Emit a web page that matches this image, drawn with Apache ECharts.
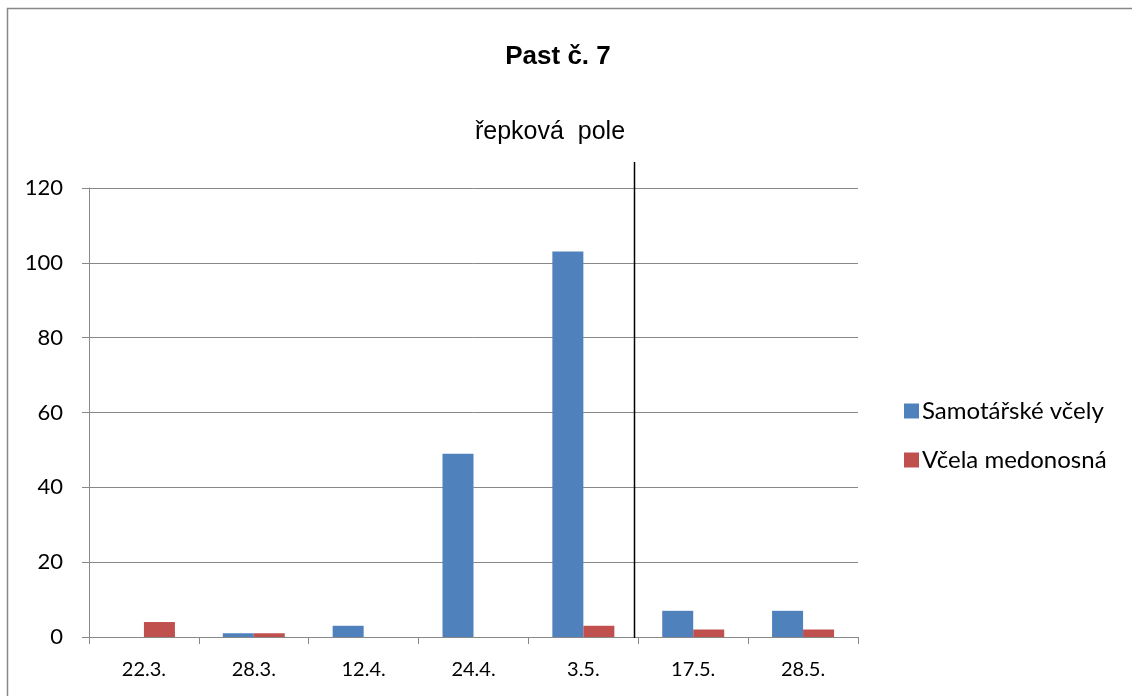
<!DOCTYPE html>
<html>
<head>
<meta charset="utf-8">
<script src="https://cdn.jsdelivr.net/npm/echarts@6/dist/echarts.min.js"></script>
<style>
  html, body { margin: 0; padding: 0; background: #fff; }
  #chart { width: 1132px; height: 696px; }
</style>
</head>
<body>
<div id="chart"></div>
<script>
// Sampling dates and catches per trap visit
const categories = ['22.3.', '28.3.', '12.4.', '24.4.', '3.5.', '17.5.', '28.5.'];
const solitaryBees = [0, 1, 3, 49, 103, 7, 7];
const honeyBee = [4, 1, 0, 0, 3, 2, 2];
const yTicks = [0, 20, 40, 60, 80, 100, 120];

const labelFont = 'Lato, "Open Sans", sans-serif';
const titleFont = '"Liberation Sans", Arial, sans-serif';
const chart = echarts.init(document.getElementById('chart'));

const option = {
  animation: false,
  backgroundColor: '#ffffff',
  title: [
    {
      text: 'Past č. 7',
      left: 553, top: 39, textAlign: 'center',
      textStyle: { fontFamily: titleFont, fontWeight: 'bold', fontSize: 26, color: '#000' }
    },
    {
      text: 'řepková  pole',
      left: 545, top: 115, textAlign: 'center',
      textStyle: { fontFamily: titleFont, fontWeight: 'normal', fontSize: 25, color: '#000' }
    }
  ],
  legend: {
    orient: 'vertical',
    left: 899, top: 394,
    itemWidth: 15, itemHeight: 15, itemGap: 25,
    icon: 'rect',
    textStyle: { fontFamily: labelFont, fontSize: 24, color: '#000', padding: [0, 0, 0, -2] },
    data: ['Samotářské včely', 'Včela medonosná']
  },
  grid: { left: 89, right: 274, top: 188, bottom: 59, containLabel: false },
  xAxis: {
    type: 'category',
    data: categories,
    axisLine: { lineStyle: { color: '#888', width: 1 } },
    axisTick: { show: true, alignWithLabel: false, length: 7, lineStyle: { color: '#888' } },
    axisLabel: { fontFamily: labelFont, fontSize: 20, color: '#000', margin: 23 }
  },
  yAxis: {
    type: 'value',
    min: yTicks[0], max: yTicks[yTicks.length - 1], interval: 20,
    axisLine: { show: true, lineStyle: { color: '#888', width: 1 } },
    axisTick: { show: true, length: 7, lineStyle: { color: '#888' } },
    axisLabel: { fontFamily: labelFont, fontSize: 22, color: '#000', margin: 26 },
    splitLine: { show: true, lineStyle: { color: '#888', width: 1 } }
  },
  series: [
    {
      name: 'Samotářské včely', type: 'bar', data: solitaryBees,
      barWidth: 31, barGap: '0%',
      itemStyle: { color: '#4F81BD' }
    },
    {
      name: 'Včela medonosná', type: 'bar', data: honeyBee,
      barWidth: 31, barGap: '0%',
      itemStyle: { color: '#C0504D' }
    }
  ]
};
chart.setOption(option);

// Outer frame and the divider between the 3.5. and 17.5. samplings
const x4 = chart.convertToPixel({ xAxisIndex: 0 }, categories[4]);
const x5 = chart.convertToPixel({ xAxisIndex: 0 }, categories[5]);
const yZero = chart.convertToPixel({ yAxisIndex: 0 }, 0);
const yTop = chart.convertToPixel({ yAxisIndex: 0 }, 120);
const divX = Math.round((x4 + x5) / 2) - 4 + 0.5;
chart.setOption({
  graphic: [
    {
      type: 'rect', silent: true, z: 100,
      shape: { x: 7.5, y: 8.5, width: 1200, height: 800 },
      style: { fill: 'none', stroke: '#888', lineWidth: 1.5 }
    },
    {
      type: 'line', silent: true, z: 100,
      shape: { x1: divX, y1: yTop - 26, x2: divX, y2: yZero + 1 },
      style: { stroke: '#000', lineWidth: 1.5 }
    }
  ]
});
</script>
</body>
</html>
